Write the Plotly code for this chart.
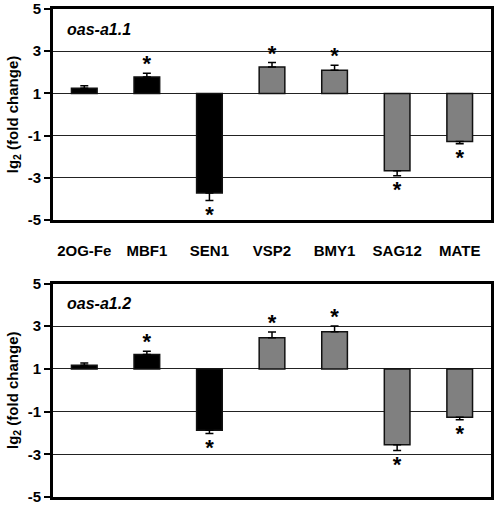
import plotly.graph_objects as go
from plotly.subplots import make_subplots

genes = ["2OG-Fe", "MBF1", "SEN1", "VSP2", "BMY1", "SAG12", "MATE"]
panel_labels = ["oas-a1.1", "oas-a1.2"]
values_11 = [1.25, 1.78, -3.72, 2.25, 2.10, -2.66, -1.28]
errors_11 = [0.11, 0.18, 0.36, 0.22, 0.23, 0.24, 0.11]
signif_11 = [False, True, True, True, True, True, True]
values_12 = [1.17, 1.67, -1.87, 2.46, 2.74, -2.55, -1.26]
errors_12 = [0.11, 0.16, 0.15, 0.27, 0.27, 0.27, 0.12]
signif_12 = [False, True, True, True, True, True, True]
bar_colors = ["#000000", "#000000", "#000000", "#808080", "#808080", "#808080", "#808080"]
baseline = 1
y_ticks = [5, 3, 1, -1, -3, -5]

FONT = "Liberation Sans, Arial, sans-serif"

fig = make_subplots(rows=2, cols=1, vertical_spacing=0.13)

for row, (vals, errs, sig) in enumerate([(values_11, errors_11, signif_11),
                                         (values_12, errors_12, signif_12)], start=1):
    lengths = [v - baseline for v in vals]
    up = [e if v >= baseline else 0 for v, e in zip(vals, errs)]
    down = [e if v < baseline else 0 for v, e in zip(vals, errs)]
    fig.add_trace(go.Bar(
        x=genes, y=lengths, base=baseline, width=0.41,
        marker=dict(color=bar_colors, line=dict(color="#111111", width=1.5)),
        error_y=dict(type="data", symmetric=False, array=up, arrayminus=down,
                     color="#000000", thickness=1.5, width=4),
        showlegend=False, hoverinfo="skip"), row=row, col=1)
    sx, sy = [], []
    for g, v, e, s in zip(genes, vals, errs, sig):
        if not s:
            continue
        sx.append(g)
        sy.append(v + e + 0.35 if v >= baseline else v - e - 0.75)
    fig.add_trace(go.Scatter(
        x=sx, y=sy, mode="text", text=["*"] * len(sx), textposition="middle center",
        textfont=dict(family=FONT, size=22, color="#000000", weight="bold"),
        showlegend=False, hoverinfo="skip"), row=row, col=1)

for row in (1, 2):
    fig.update_yaxes(
        range=[-5, 5], tickvals=y_ticks, ticktext=[str(t) for t in y_ticks],
        ticks="outside", ticklen=6, tickwidth=2, tickcolor="#000000",
        tickfont=dict(family=FONT, size=15, color="#000000", weight="bold"),
        ticklabeloverflow="allow",
        showgrid=True, gridcolor="#222222", gridwidth=1,
        showline=True, linecolor="#000000", linewidth=3, mirror=True,
        zeroline=False, automargin=False,
        title=dict(text="lg<sub>2</sub> (fold change)", standoff=6,
                   font=dict(family=FONT, size=15, color="#000000", weight="bold")),
        row=row, col=1)
    fig.update_xaxes(
        showline=True, linecolor="#000000", linewidth=3, mirror=True,
        ticks="", showgrid=False, zeroline=False, automargin=False,
        showticklabels=(row == 1), ticklabelstandoff=15,
        tickfont=dict(family=FONT, size=15, color="#000000", weight="bold"),
        row=row, col=1)

fig.update_layout(
    width=498, height=505,
    margin=dict(l=53, r=7, t=9, b=8),
    paper_bgcolor="white", plot_bgcolor="white",
    bargap=0.59,
    yaxis=dict(domain=[0.5676, 1.0]),
    yaxis2=dict(domain=[0.0, 0.4375]),
)

for i, lab in enumerate(panel_labels):
    yref = "y domain" if i == 0 else "y2 domain"
    xref = "x domain" if i == 0 else "x2 domain"
    fig.add_annotation(text=lab, xref=xref, yref=yref, x=0.027, y=0.905,
                       xanchor="left", yanchor="middle", showarrow=False,
                       font=dict(family=FONT, size=16, color="#000000",
                                 weight="bold", style="italic"))

fig.write_html("out.html", config={"displayModeBar": False},
               post_script="document.body.style.margin='0px';")
